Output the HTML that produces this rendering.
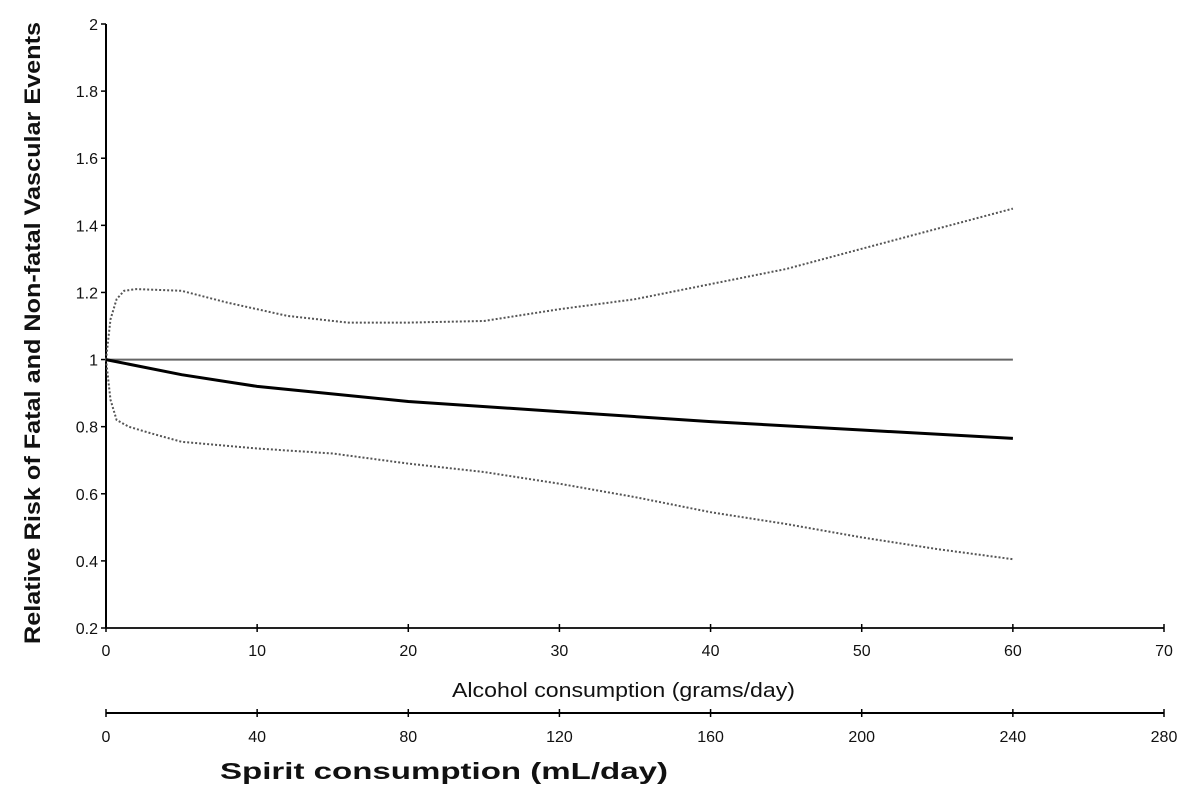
<!DOCTYPE html>
<html><head><meta charset="utf-8"><style>
body{margin:0;background:#fff}
svg{display:block;font-family:"Liberation Sans",sans-serif}
</style></head><body>
<svg id="c" width="1200" height="788"></svg>
<script>
const yTicks=[0.2,0.4,0.6,0.8,1,1.2,1.4,1.6,1.8,2];
const xTicks=[0,10,20,30,40,50,60,70];
const x2Ticks=[0,40,80,120,160,200,240,280];
const estX=[0,5,10,20,30,40,50,60];
const estY=[1,0.955,0.92,0.875,0.845,0.815,0.79,0.765];
const upX=[0,0.3,0.7,1.2,2,5,8,12,16,20,25,30,35,40,45,50,55,60];
const upY=[1,1.12,1.18,1.205,1.21,1.205,1.17,1.13,1.11,1.11,1.115,1.15,1.18,1.225,1.27,1.33,1.39,1.45];
const loX=[0,0.3,0.7,1.5,3,5,10,15,20,25,30,35,40,45,50,55,60];
const loY=[1,0.88,0.82,0.8,0.78,0.755,0.735,0.72,0.69,0.665,0.63,0.59,0.545,0.51,0.47,0.435,0.405];
const refX=[0,60];const refY=[1,1];
const NS="http://www.w3.org/2000/svg";const svg=document.getElementById('c');
const X0=106,X1=1164,Y0=628,Y1=24;
const sx=v=>X0+(v-0)/70*(X1-X0);
const sx2=v=>X0+v/280*(X1-X0);
const sy=v=>Y0-(v-0.2)/1.8*(Y0-Y1);
function mk(t,a,p){const e=document.createElementNS(NS,t);for(const k in a)e.setAttribute(k,a[k]);(p||svg).appendChild(e);return e;}
let e;
e=mk('line',{x1:X0,y1:Y1,x2:X0,y2:Y0,stroke:'#000','stroke-width':2});


e=mk('line',{x1:X0,y1:Y0,x2:X1,y2:Y0,stroke:'#222','stroke-width':2});


e=mk('line',{x1:X0,y1:713,x2:X1,y2:713,stroke:'#000','stroke-width':2});


yTicks.forEach(v=>{const y=sy(v);
mk('line',{x1:X0-5,y1:y,x2:X0,y2:y,stroke:'#000','stroke-width':1.5});
e=mk('text',{x:X0-8,y:y+6,'text-anchor':'end','font-size':16,fill:'#111'});e.textContent=v;

});
xTicks.forEach(v=>{const x=sx(v);
mk('line',{x1:x,y1:Y0-4,x2:x,y2:Y0+4,stroke:'#000','stroke-width':1.5});
e=mk('text',{x:x,y:Y0+28,'text-anchor':'middle','font-size':16,fill:'#111'});e.textContent=v;

});
x2Ticks.forEach(v=>{const x=sx2(v);
mk('line',{x1:x,y1:709,x2:x,y2:717,stroke:'#000','stroke-width':1.5});
e=mk('text',{x:x,y:742,'text-anchor':'middle','font-size':16,fill:'#111'});e.textContent=v;

});
function line(xs,ys,st,name){const d=xs.map((v,i)=>(i?'L':'M')+sx(v).toFixed(1)+','+sy(ys[i]).toFixed(1)).join('');
const p=mk('path',Object.assign({d:d,fill:'none'},st));

}
line(refX,refY,{stroke:'#666','stroke-width':2},'reference-line');
line(upX,upY,{stroke:'#555','stroke-width':2,'stroke-dasharray':'2,2'},'upper-ci');
line(loX,loY,{stroke:'#555','stroke-width':2,'stroke-dasharray':'2,2'},'lower-ci');
line(estX,estY,{stroke:'#000','stroke-width':3},'estimate-line');
e=mk('text',{x:452,y:697,'font-size':20,fill:'#111',textLength:343,lengthAdjust:'spacingAndGlyphs'});e.textContent='Alcohol consumption (grams/day)';


e=mk('text',{x:220,y:779,'font-size':23,'font-weight':'bold',fill:'#111',textLength:448,lengthAdjust:'spacingAndGlyphs'});e.textContent='Spirit consumption (mL/day)';


e=mk('text',{x:0,y:0,'font-size':22,'font-weight':'bold',fill:'#111',textLength:622,lengthAdjust:'spacingAndGlyphs',transform:'translate(40,644) rotate(-90)'});e.textContent='Relative Risk of Fatal and Non-fatal Vascular Events';


</script>
</body></html>
